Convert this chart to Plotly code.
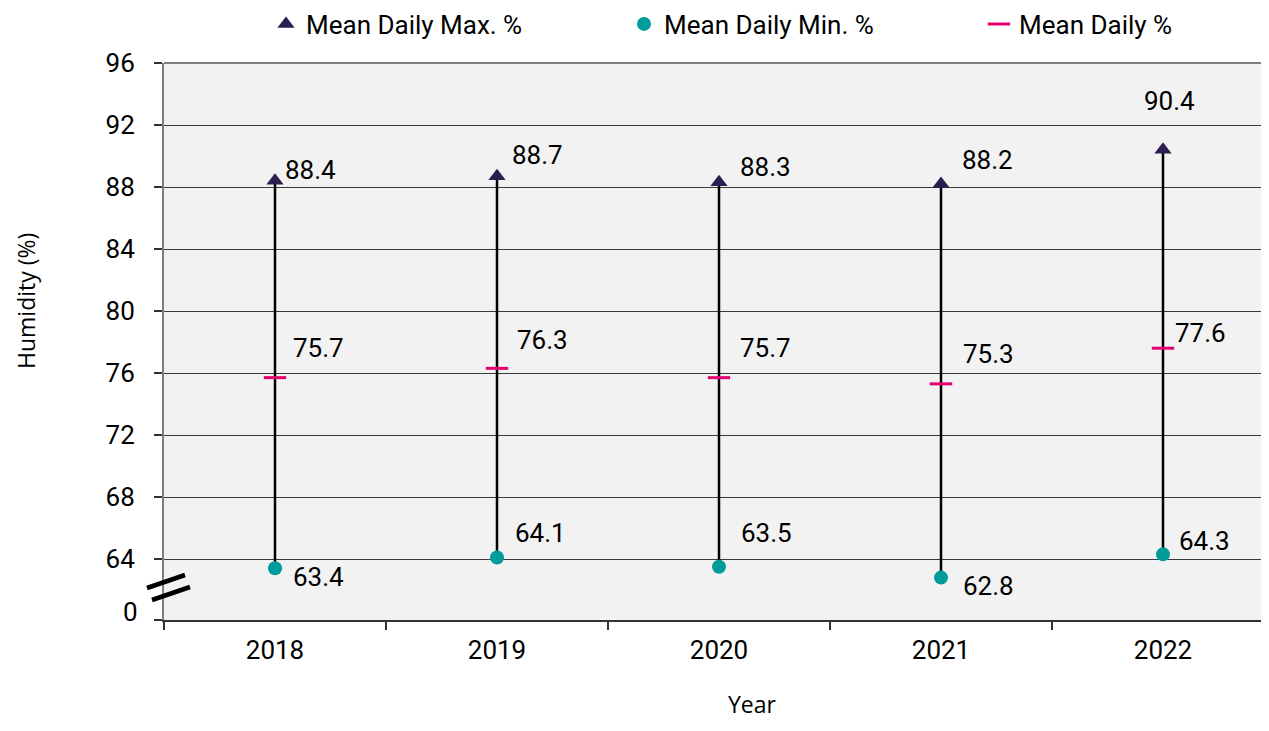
import plotly.graph_objects as go

years = ["2018", "2019", "2020", "2021", "2022"]
max_vals = [88.4, 88.7, 88.3, 88.2, 90.4]
min_vals = [63.4, 64.1, 63.5, 62.8, 64.3]
mean_vals = [75.7, 76.3, 75.7, 75.3, 77.6]
y_ticks = [64, 68, 72, 76, 80, 84, 88, 92, 96]

# label placement (pixel offsets from each marker: right, up)
max_off = [(8, 11), (13, 21), (19, 15), (19, 24), (-21, 49)]
mean_off = [(16, 30), (18, 28), (19, 30), (20, 30), (10, 15)]
min_off = [(16, -9), (16, 24), (20, 34), (20, -8), (14, 13)]

Y_LOW = 60.065
FONT = "Roboto"
FS = 26
TFONT = "Open Sans"
TFS = 23

# page has an 8px body margin: work in screen pixels, convert to figure pixels
OFF = 8
W, H = 1269 - 2 * OFF, 731 - 2 * OFF
L, R, T, B = 164 - OFF, W, 63 - OFF, 620 - OFF


def px(x):
    return (x - OFF - L) / (R - L)


def py(y):
    return (B - (y - OFF)) / (B - T)


fig = go.Figure()

# stems
sx, sy = [], []
for yr, lo, hi in zip(years, min_vals, max_vals):
    sx += [yr, yr, None]
    sy += [lo, hi, None]
fig.add_trace(go.Scatter(x=sx, y=sy, mode="lines", line=dict(color="black", width=2.5),
                         showlegend=False, hoverinfo="skip"))

fig.add_trace(go.Scatter(x=years, y=max_vals, mode="markers", name="Mean Daily Max. %",
                         legend="legend",
                         marker=dict(symbol="triangle-up", size=15, color="#2D1E52")))
fig.add_trace(go.Scatter(x=years, y=min_vals, mode="markers", name="Mean Daily Min. %",
                         legend="legend2",
                         marker=dict(symbol="circle", size=14, color="#009B9B")))
fig.add_trace(go.Scatter(x=years, y=mean_vals, mode="markers", name="Mean Daily %",
                         legend="legend3",
                         marker=dict(symbol="line-ew", size=16, color="#E5006F",
                                     line=dict(color="#E5006F", width=3))))

annotations = []
for vals, offs in ((max_vals, max_off), (mean_vals, mean_off), (min_vals, min_off)):
    for i, (v, (dx, dy)) in enumerate(zip(vals, offs)):
        annotations.append(dict(x=i, y=v, xref="x", yref="y", text=f"{v:.1f}", showarrow=False,
                                xanchor="left", yanchor="middle", xshift=dx, yshift=dy,
                                font=dict(family=FONT, size=FS, color="black")))

# broken-axis "0" label
annotations.append(dict(x=0, y=60.6, xref="paper", yref="y", text="0", showarrow=False,
                        xanchor="right", yanchor="middle", xshift=-24,
                        font=dict(family=FONT, size=FS, color="black")))
# axis titles
annotations.append(dict(x=px(26), y=py(301), xref="paper", yref="paper", text="Humidity (%)",
                        showarrow=False, textangle=-90, xanchor="center", yanchor="middle",
                        borderpad=0, font=dict(family=TFONT, size=TFS, color="black")))
annotations.append(dict(x=px(752), y=py(704), xref="paper", yref="paper", text="Year",
                        showarrow=False, xanchor="center", yanchor="middle",
                        borderpad=0, font=dict(family=TFONT, size=TFS, color="black")))

shapes = [
    dict(type="line", xref="paper", yref="paper", x0=0, x1=1, y0=1, y1=1,
         line=dict(color="#808080", width=2)),
    dict(type="line", xref="paper", yref="paper", x0=px(147), y0=py(588), x1=px(185), y1=py(575),
         line=dict(color="black", width=4.5)),
    dict(type="line", xref="paper", yref="paper", x0=px(152), y0=py(600), x1=px(190), y1=py(587),
         line=dict(color="black", width=4.5)),
]


def leg(xpix):
    return dict(orientation="h", x=px(xpix), xanchor="left", y=py(24), yanchor="middle",
                font=dict(family=FONT, size=FS, color="black"), bgcolor="rgba(0,0,0,0)",
                itemwidth=30)


fig.update_layout(
    width=W, height=H,
    margin=dict(l=L, r=W - R, t=T, b=H - B, autoexpand=False),
    paper_bgcolor="white",
    plot_bgcolor="#F2F2F2",
    font=dict(family=FONT, size=FS, color="black"),
    showlegend=True,
    legend=leg(266),
    legend2=leg(624),
    legend3=leg(979),
    annotations=annotations,
    shapes=shapes,
    xaxis=dict(type="category", categoryorder="array", categoryarray=years,
               range=[-0.5, -0.5 + (R - L) / 222], showgrid=False, automargin=False,
               showline=True, linecolor="#333333", linewidth=2,
               ticks="outside", tickson="boundaries", ticklen=8, tickcolor="#333333", tickwidth=2,
               tickfont=dict(family=FONT, size=FS), ticklabelstandoff=6),
    yaxis=dict(range=[Y_LOW, 96], tickvals=[Y_LOW] + y_ticks,
               ticktext=[""] + [str(t) for t in y_ticks], automargin=False,
               showgrid=True, gridcolor="#3a3a3a", gridwidth=1,
               showline=True, linecolor="#808080", linewidth=2,
               ticks="outside", ticklen=8, tickcolor="#333333", tickwidth=1.5,
               tickfont=dict(family=FONT, size=FS), ticklabelstandoff=14,
               zeroline=False),
)

fig.write_html("out.html")
